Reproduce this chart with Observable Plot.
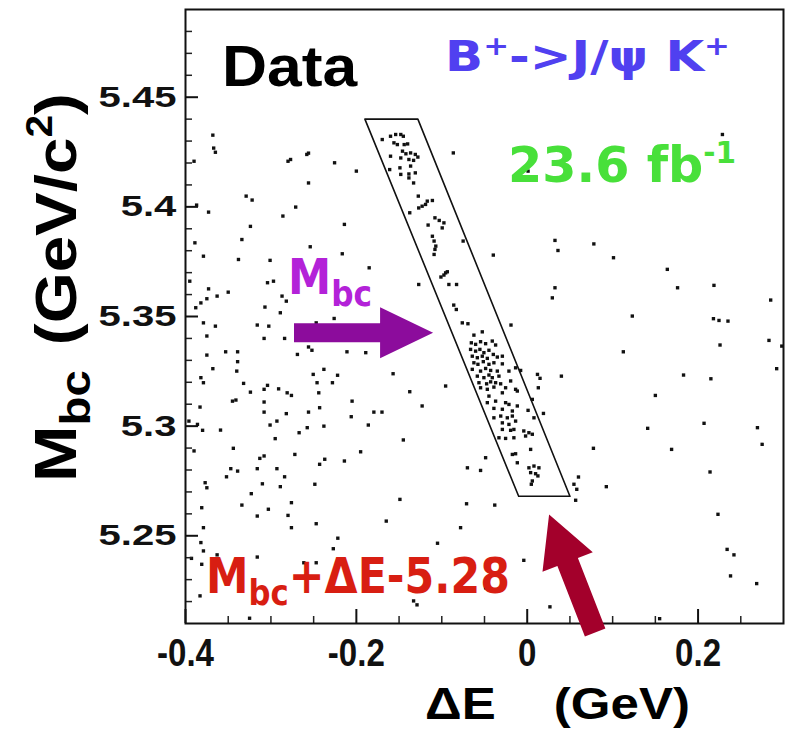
<!DOCTYPE html>
<html><head><meta charset="utf-8">
<script src="https://cdn.jsdelivr.net/npm/d3@7"></script>
<script src="https://cdn.jsdelivr.net/npm/@observablehq/plot@0.6"></script>
<style>
html,body{margin:0;padding:0;background:#fff;}
#chart svg{display:block;}
</style>
</head><body><div id="chart"></div>
<script>
// ---------- data ----------
const xTicks = [-0.4, -0.2, 0, 0.2];
const xTickLabels = ["-0.4", "-0.2", "0", "0.2"];
const xMinorTicks = [-0.35, -0.3, -0.25, -0.15, -0.1, -0.05, 0.05, 0.1, 0.15, 0.25];
const yTicks = [5.25, 5.3, 5.35, 5.4, 5.45];
const yTickLabels = ["5.25", "5.3", "5.35", "5.4", "5.45"];
const yMinorTicks = [5.22, 5.23, 5.24, 5.26, 5.27, 5.28, 5.29, 5.31, 5.32, 5.33, 5.34, 5.36, 5.37, 5.38, 5.39, 5.41, 5.42, 5.43, 5.44, 5.46, 5.47, 5.48];

// signal-box corners (ΔE, Mbc)
const boxDeltaE = [-0.190, -0.128, 0.050, -0.010, -0.190];
const boxMbc = [5.440, 5.440, 5.268, 5.268, 5.440];

// events: [ΔE (GeV), Mbc (GeV/c^2)]
const events = [
[-0.368,5.4327],[-0.367,5.4268],[-0.365,5.4249],[-0.258,5.4239],[-0.256,5.4245],[-0.280,5.4208],[-0.277,5.4216],[-0.2255,5.4201],[-0.200,5.4163],[-0.256,5.4109],
[-0.329,5.4049],[-0.322,5.4031],[-0.373,5.3976],[-0.271,5.3999],[-0.286,5.3958],[-0.324,5.3911],[-0.214,5.3920],[-0.254,5.3818],[-0.334,5.3851],[-0.389,5.3836],
[-0.379,5.3775],[-0.338,5.3760],[-0.2165,5.3786],[-0.301,5.3756],[-0.185,5.3722],[-0.304,5.3654],[-0.297,5.3661],[-0.395,5.3661],[-0.373,5.3626],[-0.350,5.3611],
[-0.363,5.3593],[-0.375,5.3581],[-0.287,5.3593],[-0.282,5.3570],[-0.382,5.3562],[-0.388,5.3540],[-0.307,5.3543],[-0.289,5.3517],[-0.226,5.3491],[-0.316,5.3461],
[-0.3025,5.3456],[-0.247,5.3471],[-0.379,5.3471],[-0.365,5.3456],[-0.375,5.3411],[-0.308,5.3400],[-0.284,5.3400],[-0.375,5.3324],[-0.353,5.3339],[-0.339,5.3339],
[-0.256,5.3361],[-0.252,5.3346],[-0.211,5.3339],[-0.189,5.3335],[-0.127,5.3646],[-0.101,5.3680],[-0.0955,5.3699],[-0.0917,5.3646],[-0.0827,5.3646],[-0.0865,5.4246],
[-0.075,5.3844],[-0.1697,5.4307],[-0.160,5.4322],[-0.154,5.4330],[-0.148,5.4330],[-0.145,5.4322],[-0.156,5.4292],[-0.152,5.4284],[-0.144,5.4284],[-0.140,5.4287],
[-0.146,5.4254],[-0.142,5.4242],[-0.1365,5.4246],[-0.131,5.4239],[-0.128,5.4227],[-0.160,5.4231],[-0.148,5.4223],[-0.1385,5.4216],[-0.133,5.4212],[-0.161,5.4170],
[-0.149,5.4178],[-0.1365,5.4186],[-0.131,5.4155],[-0.1385,5.4150],[-0.148,5.4148],[-0.1385,5.4132],[-0.133,5.4109],[-0.1275,5.4049],[-0.117,5.4026],[-0.111,5.4029],
[-0.123,5.4003],[-0.127,5.3995],[-0.119,5.4011],[-0.1375,5.3973],[-0.108,5.3950],[-0.103,5.3938],[-0.116,5.3917],[-0.0995,5.3904],[-0.111,5.3866],[-0.109,5.3844],
[-0.107,5.3821],[-0.108,5.3806],[-0.109,5.3783],[-0.0935,5.3704],[-0.0975,5.3689],[-0.086,5.3552],[-0.083,5.3532],[-0.076,5.3471],[-0.0694,5.3467],[0.001,5.4163],
[0.2285,5.4330],[0.0325,5.3847],[0.036,5.3801],[0.078,5.3831],[0.101,5.3768],[-0.0397,5.3780],[0.164,5.3715],[0.0325,5.3631],[0.0294,5.3585],[0.176,5.3631],
[0.2186,5.3642],[0.285,5.3575],[0.123,5.3502],[0.218,5.3490],[0.2245,5.3482],[0.235,5.3479],[0.283,5.3391],[0.2257,5.3370],[0.298,5.3365],[0.1125,5.3339],
[0.292,5.3262],[0.183,5.3233],[0.215,5.3216],[0.040,5.3228],[-0.0955,5.3183],[0.150,5.3140],[0.019,5.3058],[0.207,5.3013],[0.141,5.2990],[0.2695,5.2993],
[0.0775,5.2899],[0.169,5.2894],[0.275,5.2917],[-0.070,5.2810],[-0.0546,5.2798],[-0.0487,5.2856],[0.214,5.2791],[0.060,5.2768],[0.0547,5.2735],[0.058,5.2712],
[0.0926,5.2724],[0.0567,5.2662],[-0.071,5.2646],[-0.038,5.2640],[0.2233,5.2598],[-0.078,5.2537],[0.234,5.2438],[0.242,5.2413],[0.238,5.2317],[0.2686,5.2282],
[-0.004,5.2388],[0.012,5.3236],[0.015,5.3218],[0.013,5.3175],[-0.019,5.3461],[-0.0136,5.3266],[0.155,5.2122],[-0.339,5.3294],[-0.269,5.3327],[-0.368,5.3262],
[-0.340,5.3251],[-0.382,5.3221],[-0.379,5.3198],[-0.332,5.3195],[-0.324,5.3155],[-0.308,5.3168],[-0.304,5.3186],[-0.291,5.3170],[-0.276,5.3140],[-0.281,5.3152],
[-0.246,5.3198],[-0.244,5.3152],[-0.228,5.3198],[-0.222,5.3232],[-0.2505,5.3236],[-0.238,5.3259],[-0.157,5.3239],[-0.1375,5.3157],[-0.383,5.3087],[-0.345,5.3114],
[-0.341,5.3119],[-0.308,5.3110],[-0.308,5.3064],[-0.282,5.3057],[-0.256,5.3064],[-0.243,5.3084],[-0.238,5.3000],[-0.205,5.3114],[-0.206,5.3043],[-0.1795,5.3064],
[-0.170,5.3064],[-0.186,5.3005],[-0.123,5.3092],[-0.301,5.3005],[-0.293,5.3023],[-0.2575,5.2993],[-0.267,5.2970],[-0.396,5.3023],[-0.386,5.3008],[-0.380,5.2981],
[-0.359,5.2982],[-0.295,5.2943],[-0.344,5.2899],[-0.145,5.2937],[-0.390,5.2887],[-0.313,5.2853],[-0.308,5.2864],[-0.272,5.2871],[-0.237,5.2849],[-0.243,5.2826],
[-0.214,5.2841],[-0.195,5.2883],[-0.347,5.2806],[-0.339,5.2795],[-0.352,5.2769],[-0.316,5.2806],[-0.293,5.2806],[-0.284,5.2769],[-0.377,5.2742],[-0.375,5.2719],
[-0.310,5.2737],[-0.289,5.2724],[-0.2486,5.2735],[-0.323,5.2692],[-0.381,5.2628],[-0.334,5.2640],[-0.303,5.2621],[-0.276,5.2651],[-0.149,5.2666],[-0.316,5.2590],
[-0.280,5.2593],[-0.379,5.2537],[-0.276,5.2537],[-0.247,5.2555],[-0.165,5.2567],[-0.382,5.2469],[-0.379,5.2431],[-0.363,5.2413],[-0.227,5.2441],[-0.2217,5.2489],
[-0.316,5.2403],[-0.105,5.2466],[-0.381,5.2370],[-0.383,5.2226],[-0.2615,5.2377],[-0.247,5.2377],[-0.117,5.2302],[-0.0487,5.2263],[-0.133,5.2203],[-0.129,5.2185],
[0.0266,5.2176],[-0.325,5.2124],[-0.393,5.2397],[-0.390,5.4208],[-0.387,5.4008],[-0.0975,5.3927],
[-0.0624,5.3415],[-0.0526,5.3430],[-0.0654,5.3380],[-0.0604,5.3373],[-0.0546,5.3385],[-0.0487,5.3376],[-0.0409,5.3388],[-0.037,5.3370],[-0.0663,5.3350],[-0.0604,5.3342],
[-0.0554,5.3350],[-0.0507,5.3335],[-0.0448,5.3346],[-0.0643,5.3319],[-0.0584,5.3312],[-0.0526,5.3319],[-0.0467,5.3309],[-0.0397,5.3327],[-0.035,5.3315],[-0.0291,5.3319],
[-0.0624,5.3289],[-0.0577,5.3282],[-0.0514,5.3294],[-0.0448,5.3282],[-0.039,5.3289],[-0.0291,5.3284],[-0.0643,5.3259],[-0.0546,5.3251],[-0.0487,5.3263],[-0.0428,5.3254],
[-0.035,5.3251],[-0.0214,5.3251],[-0.0584,5.3228],[-0.0507,5.3221],[-0.0448,5.3233],[-0.0409,5.3221],[-0.0331,5.3228],[-0.0077,5.3254],[-0.0565,5.3198],[-0.0475,5.3193],
[-0.0428,5.3202],[-0.037,5.3198],[-0.0311,5.3193],[-0.0194,5.3206],[-0.0546,5.3175],[-0.0467,5.3168],[-0.039,5.3178],[-0.0253,5.3175],[-0.0136,5.3168],[-0.0448,5.3137],
[-0.0291,5.3152],[-0.0116,5.3160],[-0.0467,5.3107],[-0.037,5.3114],[-0.0253,5.3107],[-0.0214,5.3099],[-0.0116,5.3092],[-0.039,5.3081],[-0.0291,5.3077],[-0.0174,5.3069],
[0.001,5.3072],[0.006,5.3122],[-0.039,5.3038],[-0.031,5.3046],[-0.0233,5.3038],[-0.0174,5.3046],[-0.0291,5.3015],[-0.0214,5.3008],[-0.0136,5.3023],[0.0079,5.3038],
[-0.0291,5.2985],[-0.0194,5.2981],[-0.0156,5.2985],[-0.004,5.2978],[0.002,5.2970],[-0.0331,5.2947],[-0.0253,5.2944],[-0.0156,5.2947],[-0.0019,5.2955],[0.006,5.2963],
[0.004,5.2894],[-0.0174,5.2871],[-0.0136,5.2874],[-0.0116,5.2833],[0.002,5.2810],[0.0079,5.2818],[0.0137,5.2810],[0.004,5.2788],[0.0098,5.2783],[0.0125,5.2773],
[0.006,5.2750],[0.0048,5.2735]
];

// annotation arrows (data coordinates): tail, tip
const mbcArrowDeltaE = [-0.2724, -0.1096];
const mbcArrowMbc = [5.3424, 5.3424];
const sumArrowDeltaE = [0.0801, 0.0262];
const sumArrowMbc = [5.2057, 5.2595];

// ---------- layout ----------
const W = 789, H = 733;
const mL = 185, mR = 6, mT = 9, mB = 110;
const plotW = W - mL - mR, plotH = H - mT - mB;
const ARIAL = "'Liberation Sans', Arial, Helvetica, sans-serif";
const COMIC = "'DejaVu Sans', Verdana, sans-serif";

const points = events.map(([de, m]) => ({de, m}));
const box = boxDeltaE.map((de, i) => ({de, m: boxMbc[i]}));

const chart = Plot.plot({
  width: W, height: H,
  marginLeft: mL, marginRight: mR, marginTop: mT, marginBottom: mB,
  style: {background: "white", overflow: "visible"},
  x: {domain: [-0.4, 0.3], axis: null},
  y: {domain: [5.21, 5.49], axis: null},
  marks: [
    Plot.dot(points, {x: "de", y: "m", symbol: "square", r: 1.9, fill: "#111", stroke: "none"}),
    Plot.line(box, {x: "de", y: "m", stroke: "#111", strokeWidth: 1.6}),
    Plot.ruleY(yMinorTicks, {insetRight: plotW - 7, stroke: "#222", strokeWidth: 1.5}),
    Plot.ruleY(yTicks, {insetRight: plotW - 13, stroke: "#111", strokeWidth: 2}),
    Plot.ruleX(xMinorTicks, {insetTop: plotH - 7, stroke: "#222", strokeWidth: 1.5}),
    Plot.ruleX(xTicks, {insetTop: plotH - 14, stroke: "#111", strokeWidth: 2}),
    Plot.frame({stroke: "#111", strokeWidth: 2}),
    Plot.text(yTicks, {y: d => d, text: (d, i) => yTickLabels[i], frameAnchor: "left", textAnchor: "end", lineAnchor: "middle", dx: -9,
      fontSize: 30, fontWeight: "bold", fontFamily: ARIAL, fill: "#111"}),
    Plot.text(xTicks, {x: d => d, text: (d, i) => xTickLabels[i], frameAnchor: "bottom", textAnchor: "middle", lineAnchor: "top", dy: 16,
      fontSize: 38, fontWeight: "bold", fontFamily: ARIAL, fill: "#111"})
  ]
});
document.getElementById("chart").append(chart);

// ---------- post-processing: horizontal glyph scaling for tick labels ----------
function scaleTextX(t, f, anchor) {
  const b = t.getBBox();
  const ax = anchor === "end" ? b.x + b.width : anchor === "middle" ? b.x + b.width / 2 : b.x;
  const tr = t.getAttribute("transform") || "";
  t.setAttribute("transform", `${tr} translate(${ax},0) scale(${f},1) translate(${-ax},0)`);
}
const textGroups = chart.querySelectorAll('g[aria-label="text"]');
{
  const ys = [...textGroups[0].querySelectorAll("text")];
  const ref = ys.find(t => t.textContent === "5.45") || ys[0];
  const f = 78 / ref.getBBox().width;
  ys.forEach(t => scaleTextX(t, f, "end"));
  const xs = [...textGroups[1].querySelectorAll("text")];
  const ref2 = xs.find(t => t.textContent === "0.2") || xs[0];
  const f2 = 46 / ref2.getBBox().width;
  xs.forEach(t => scaleTextX(t, f2, "middle"));
}

// ---------- annotations ----------
const X = chart.scale("x"), Y = chart.scale("y");
const svg = d3.select(chart);
const ann = svg.append("g");

function rich(segs, {x, y, size, family, weight = "bold", fill, width, rotate = 0}) {
  const g = ann.append("g");
  const t = g.append("text").attr("font-family", family).attr("font-weight", weight)
    .attr("font-size", size).attr("fill", fill);
  let shift = 0;
  for (const s of segs) {
    const rel = s.shift || 0;
    const sp = t.append("tspan").attr("dy", rel - shift).attr("font-size", s.size || size).text(s.t);
    if (s.dx) sp.attr("dx", s.dx);
    shift = rel;
  }
  const bb = t.node().getBBox();
  const f = width ? width / bb.width : 1;
  g.attr("transform", `translate(${x},${y}) rotate(${rotate}) scale(${f},1) translate(${-bb.x},0)`);
}

function blockArrow(tail, tip, shaftHalf, headHalf, headLen, fill) {
  const dx = tip[0] - tail[0], dy = tip[1] - tail[1], L = Math.hypot(dx, dy);
  const ux = dx / L, uy = dy / L, nx = -uy, ny = ux;
  const bx = tip[0] - ux * headLen, by = tip[1] - uy * headLen;
  const pts = [
    [tail[0] + nx * shaftHalf, tail[1] + ny * shaftHalf],
    [bx + nx * shaftHalf, by + ny * shaftHalf],
    [bx + nx * headHalf, by + ny * headHalf],
    tip,
    [bx - nx * headHalf, by - ny * headHalf],
    [bx - nx * shaftHalf, by - ny * shaftHalf],
    [tail[0] - nx * shaftHalf, tail[1] - ny * shaftHalf]
  ];
  ann.append("polygon").attr("points", pts.map(p => p.join(",")).join(" ")).attr("fill", fill);
}

// "Data"
rich([{t: "Data"}], {x: X.apply(-0.3567), y: Y.apply(5.4550), size: 58, family: ARIAL, fill: "#000", width: 136});
// B+ -> J/psi K+
rich([{t: "B"}, {t: "+", size: 26, shift: -16}, {t: "->J/ψ K"}, {t: "+", size: 26, shift: -16}],
  {x: X.apply(-0.0956), y: Y.apply(5.4619), size: 42, family: COMIC, fill: "#5040f0", width: 285});
// luminosity
rich([{t: "23.6 fb"}, {t: "-1", size: 30, shift: -19}],
  {x: X.apply(-0.0218), y: Y.apply(5.4109), size: 50, family: COMIC, fill: "#48e03a", width: 228});
// Mbc (purple)
rich([{t: "M"}, {t: "bc", size: 36, shift: 12}],
  {x: X.apply(-0.2794), y: Y.apply(5.3602), size: 50, family: COMIC, fill: "#b322d8", width: 84});
// Mbc + dE - 5.28 (red)
rich([{t: "M"}, {t: "bc", size: 36, shift: 12}, {t: "+ΔE-5.28", shift: 0}],
  {x: X.apply(-0.3754), y: Y.apply(5.2235), size: 50, family: COMIC, fill: "#d81e12", width: 304});

// arrows
blockArrow([X.apply(mbcArrowDeltaE[0]), Y.apply(mbcArrowMbc[0])], [X.apply(mbcArrowDeltaE[1]), Y.apply(mbcArrowMbc[1])], 9.5, 25.5, 53, "#8c0c9c");
blockArrow([X.apply(sumArrowDeltaE[0]), Y.apply(sumArrowMbc[0])], [X.apply(sumArrowDeltaE[1]), Y.apply(sumArrowMbc[1])], 11, 27, 51, "#a3002b");

// axis titles
rich([{t: "M", size: 60}, {t: "bc", size: 42, shift: 14}, {t: "(GeV/c", size: 58, shift: 0, dx: 22}, {t: "2", size: 36, shift: -24}, {t: ")", size: 58, shift: 0}],
  {x: 76, y: 482, size: 58, family: ARIAL, fill: "#000", width: 389, rotate: -90});
rich([{t: "ΔE"}, {t: "(GeV)", dx: 50}],
  {x: 425, y: 719, size: 44, family: ARIAL, fill: "#000", width: 265});
</script>
</body></html>
